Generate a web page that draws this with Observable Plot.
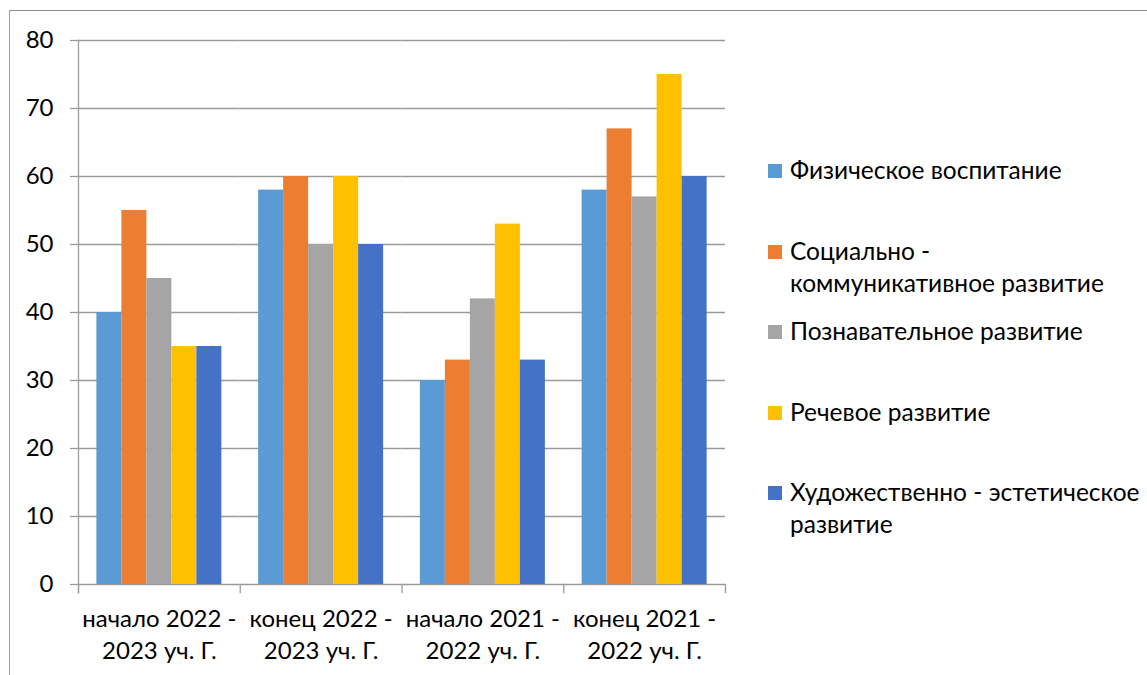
<!DOCTYPE html>
<html>
<head>
<meta charset="utf-8">
<script src="https://cdn.jsdelivr.net/npm/d3@7"></script>
<script src="https://cdn.jsdelivr.net/npm/@observablehq/plot@0.6"></script>
<style>
  html, body { margin: 0; padding: 0; background: #fff; }
  #wrap { position: relative; width: 1147px; height: 675px; overflow: hidden; font-family: Lato, "Open Sans", sans-serif; }
  #border { position: absolute; left: 9px; top: 10px; right: -5px; bottom: -5px; border-top: 1.5px solid #8f8f8f; border-left: 1.5px solid #a0a0a0; }
  #chart { position: absolute; left: 0; top: 0; }
  #legend { position: absolute; left: 768px; top: 154px; font-size: 24.5px; color: #000; }
  .item { position: absolute; left: 0; display: flex; align-items: flex-start; white-space: pre; line-height: 32px; }
  .sw { width: 14px; height: 14px; margin-top: 10px; margin-right: 8px; flex: none; }
</style>
</head>
<body>
<div id="wrap">
  <div id="border"></div>
  <div id="chart"></div>
  <div id="legend"></div>
</div>
<script>
// ---- data ----
const categories = ["начало 2022 - 2023 уч. Г.", "конец 2022 - 2023 уч. Г.", "начало 2021 - 2022 уч. Г.", "конец 2021 - 2022 уч. Г."];
const series = ["Физическое воспитание", "Социально - коммуникативное развитие", "Познавательное развитие", "Речевое развитие", "Художественно - эстетическое развитие"];
const legendLabels = ["Физическое воспитание", "Социально -\nкоммуникативное развитие", "Познавательное развитие", "Речевое развитие", "Художественно - эстетическое\nразвитие"];
const fizicheskoe   = [40, 58, 30, 58];
const socialnoe     = [55, 60, 33, 67];
const poznavatelnoe = [45, 50, 42, 57];
const rechevoe      = [35, 60, 53, 75];
const hudozhestv    = [35, 50, 33, 60];
const yTicks = [0, 10, 20, 30, 40, 50, 60, 70, 80];
const colors = ["#5B9BD5", "#ED7D31", "#A5A5A5", "#FFC000", "#4472C4"];

const seriesValues = [fizicheskoe, socialnoe, poznavatelnoe, rechevoe, hudozhestv];
const rows = [];
categories.forEach((c, i) => series.forEach((s, j) => rows.push({cat: c, series: s, value: seriesValues[j][i]})));

const W = 1147, H = 675, mT = 40, mB = 91, mL = 78, mR = 422;
const plotH = H - mT - mB;
const gridColor = "#9b9b9b";
const font = "Lato, 'Open Sans', sans-serif";

const chart = Plot.plot({
  width: W, height: H,
  marginTop: mT, marginBottom: mB, marginLeft: mL, marginRight: mR,
  style: {fontFamily: font, fontSize: "24px", color: "#000", background: "transparent"},
  fx: {domain: categories, padding: 0, round: false, label: null},
  x: {domain: series, paddingInner: 0, paddingOuter: 0.735, round: false, axis: null},
  y: {domain: [0, 80], label: null},
  color: {domain: series, range: colors},
  marks: [
    Plot.gridY(yTicks, {stroke: gridColor, strokeOpacity: 1, strokeWidth: 1.3}),
    Plot.frame({anchor: "left", facetAnchor: "left", stroke: gridColor, strokeWidth: 1.3, insetBottom: -8}),
    Plot.frame({anchor: "left", stroke: gridColor, strokeWidth: 1.3, insetTop: plotH, insetBottom: -8}),
    Plot.frame({anchor: "right", facetAnchor: "right", stroke: gridColor, strokeWidth: 1.3, insetTop: plotH, insetBottom: -8}),
    Plot.barY(rows, {fx: "cat", x: "series", y: "value", fill: "series", insetLeft: 0, insetRight: 0}),
    Plot.axisY({ticks: yTicks, tickSize: 8, tickPadding: 17, stroke: gridColor, strokeWidth: 1.3, fill: "#000", fontSize: 24, label: null}),
    Plot.axisFx({anchor: "bottom", tickSize: 0, tickPadding: 19, fontSize: 24, fill: "#000", lineHeight: 1.35, label: null,
      tickFormat: d => d.replace(" - ", " -\n")})
  ]
});
document.getElementById("chart").appendChild(chart);

const legend = document.getElementById("legend");
legendLabels.forEach((lab, i) => {
  const item = document.createElement("div");
  item.className = "item";
  item.style.top = (i * 80.5) + "px";
  const sw = document.createElement("div");
  sw.className = "sw";
  sw.style.background = colors[i];
  const tx = document.createElement("div");
  tx.textContent = lab;
  item.appendChild(sw);
  item.appendChild(tx);
  legend.appendChild(item);
});
</script>
</body>
</html>
